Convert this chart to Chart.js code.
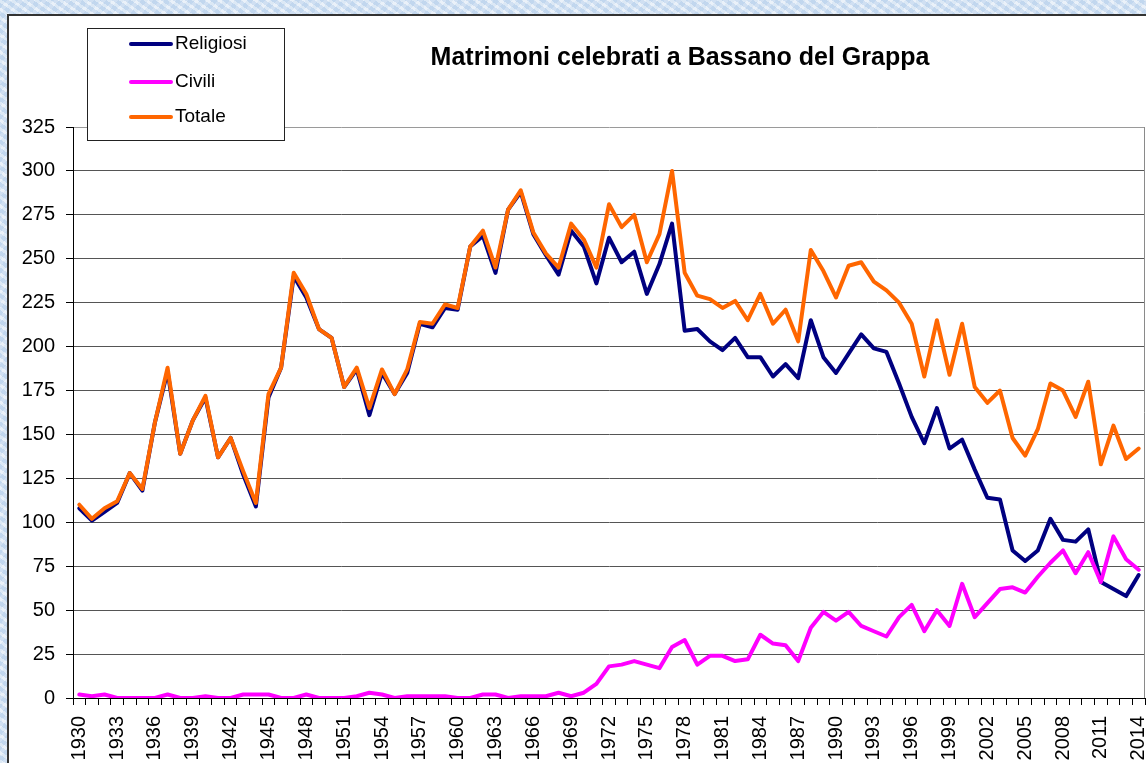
<!DOCTYPE html>
<html>
<head>
<meta charset="utf-8">
<script src="https://cdn.jsdelivr.net/npm/chart.js@4/dist/chart.umd.min.js"></script>
<style>
  html, body { margin: 0; padding: 0; overflow: hidden; }
  body {
    width: 1146px; height: 763px;
    background-color: #d3e3f3;
    background-image:
      repeating-linear-gradient(35deg, rgba(255,255,255,0.35) 0 3px, rgba(180,205,235,0.35) 3px 7px),
      repeating-linear-gradient(-50deg, rgba(255,255,255,0.25) 0 4px, rgba(170,200,232,0.25) 4px 9px);
  }
  #panel {
    position: absolute; left: 7px; top: 14px; width: 1150px; height: 800px;
    background: #fff; border: 2px solid #333;
  }
  #wrap { position: absolute; left: 0; top: 0; width: 1146px; height: 790px; }
</style>
</head>
<body>
<div id="panel"></div>
<div id="wrap"><canvas id="myChart" width="1146" height="790"></canvas></div>
<script>
// Define the data
var years = [];
for (var y = 1930; y <= 2014; y++) years.push(String(y));

var religiosi = [108, 101, 106, 111, 128, 118, 157, 186, 139, 158,
  171, 137, 148, 127, 109, 171, 188, 240, 228, 210,
  205, 177, 187, 161, 185, 173, 185, 213, 211, 222,
  221, 257, 263, 242, 278, 288, 264, 252, 241, 266,
  257, 236, 262, 248, 254, 230, 247, 270, 209, 210,
  203, 198, 205, 194, 194, 183, 190, 182, 215, 194,
  185, 196, 207, 199, 197, 179, 160, 145, 165, 142,
  147, 130, 114, 113, 84, 78, 84, 102, 90, 89,
  96, 66, 62, 58, 70];

var civili = [2, 1, 2, 0, 0, 0, 0, 2, 0, 0,
  1, 0, 0, 2, 2, 2, 0, 0, 2, 0,
  0, 0, 1, 3, 2, 0, 1, 1, 1, 1,
  0, 0, 2, 2, 0, 1, 1, 1, 3, 1,
  3, 8, 18, 19, 21, 19, 17, 29, 33, 19,
  24, 24, 21, 22, 36, 31, 30, 21, 40, 49,
  44, 49, 41, 38, 35, 46, 53, 38, 50, 41,
  65, 46, 54, 62, 63, 60, 69, 77, 84, 71,
  83, 66, 92, 79, 73];

var totale = [110, 102, 108, 112, 128, 119, 157, 188, 139, 158,
  172, 137, 148, 129, 111, 173, 188, 242, 230, 210,
  205, 177, 188, 165, 187, 173, 187, 214, 213, 224,
  222, 257, 266, 245, 278, 289, 265, 253, 245, 270,
  261, 245, 281, 268, 275, 248, 264, 300, 242, 229,
  227, 222, 226, 215, 230, 213, 221, 203, 255, 243,
  228, 246, 248, 237, 232, 225, 213, 183, 215, 184,
  213, 177, 168, 175, 148, 138, 153, 179, 175, 160,
  180, 133, 155, 136, 142];

var yTicks = [0, 25, 50, 75, 100, 125, 150, 175, 200, 225, 250, 275, 300, 325];
var chartTitle = 'Matrimoni celebrati a Bassano del Grappa';
// End Defining data

var FONT = '"Liberation Sans", Arial, sans-serif';

// title, legend box and right border drawn on top of the plot
var decorPlugin = {
  id: 'decor',
  afterDatasetsDraw: function(chart) {
    var ctx = chart.ctx;
    var area = chart.chartArea;
    ctx.save();
    // right border of plot
    ctx.strokeStyle = '#8a8a8a';
    ctx.lineWidth = 1;
    ctx.beginPath();
    ctx.moveTo(Math.round(area.right) - 0.5, area.top);
    ctx.lineTo(Math.round(area.right) - 0.5, area.bottom);
    ctx.stroke();

    // title
    ctx.fillStyle = '#000';
    ctx.font = 'bold 25px ' + FONT;
    ctx.textAlign = 'center';
    ctx.textBaseline = 'alphabetic';
    ctx.fillText(chartTitle, 680, 65);

    // legend box
    ctx.fillStyle = '#fff';
    ctx.fillRect(87, 28, 198, 113);
    ctx.strokeStyle = '#222';
    ctx.lineWidth = 1;
    ctx.strokeRect(87.5, 28.5, 197, 112);
    var rows = [44, 82, 117];
    ctx.font = '19px ' + FONT;
    ctx.textAlign = 'left';
    ctx.textBaseline = 'middle';
    chart.data.datasets.forEach(function(ds, i) {
      ctx.strokeStyle = ds.borderColor;
      ctx.lineWidth = 4;
      ctx.lineCap = 'round';
      ctx.beginPath();
      ctx.moveTo(131, rows[i]);
      ctx.lineTo(171, rows[i]);
      ctx.stroke();
      ctx.fillStyle = '#000';
      ctx.fillText(ds.label, 175, rows[i]);
    });
    ctx.restore();
  }
};

var ctx = document.getElementById('myChart').getContext('2d');

var myChart = new Chart(ctx, {
  type: 'line',
  data: {
    labels: years,
    datasets: [
      { label: 'Religiosi', data: religiosi, borderColor: '#000080', order: 3 },
      { label: 'Civili', data: civili, borderColor: '#ff00ff', order: 2 },
      { label: 'Totale', data: totale, borderColor: '#ff6600', order: 1 }
    ]
  },
  options: {
    responsive: false,
    animation: false,
    layout: { padding: { top: 127, right: 1, left: 0, bottom: 0 } },
    elements: {
      line: { borderWidth: 4, tension: 0, borderJoinStyle: 'round', borderCapStyle: 'round', fill: false },
      point: { radius: 0, hoverRadius: 0 }
    },
    plugins: {
      legend: { display: false },
      title: { display: false },
      tooltip: { enabled: false }
    },
    scales: {
      x: {
        offset: true,
        grid: { drawOnChartArea: false, drawTicks: true, tickLength: 7, offset: true, color: '#000' },
        border: { color: '#000', width: 1 },
        ticks: {
          autoSkip: false,
          minRotation: 90,
          maxRotation: 90,
          padding: 11,
          color: '#000',
          font: { family: FONT, size: 20 },
          callback: function(val, idx) { return idx % 3 === 0 ? years[idx] : ''; }
        },
        afterFit: function(scale) {
          scale.height = 790 - 698;
          scale.paddingLeft = 0;
          scale.paddingRight = 0;
        }
      },
      y: {
        min: 0,
        max: 325,
        afterBuildTicks: function(scale) {
          scale.ticks = yTicks.map(function(v) { return { value: v }; });
        },
        grid: {
          color: function(c) { return c.tick && c.tick.value === 325 ? '#9a9a9a' : '#555'; },
          tickLength: 7,
          tickColor: '#000'
        },
        border: { color: '#000', width: 1 },
        ticks: {
          padding: 11,
          color: '#000',
          font: { family: FONT, size: 20 }
        },
        afterFit: function(scale) {
          scale.width = 73;
          scale.paddingTop = 0;
          scale.paddingBottom = 0;
        }
      }
    }
  },
  plugins: [decorPlugin]
});
</script>
</body>
</html>
